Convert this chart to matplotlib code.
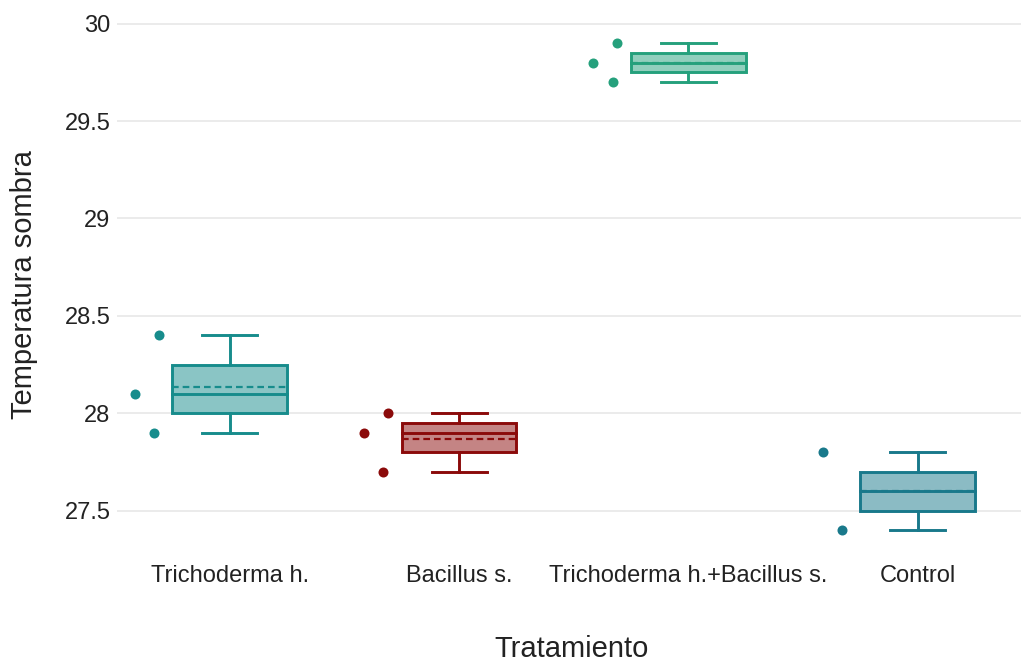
import numpy as np
import matplotlib.pyplot as plt

# temperature readings per treatment
categories = ["Trichoderma h.", "Bacillus s.", "Trichoderma h.+Bacillus s.", "Control"]
trichoderma = [28.4, 28.1, 27.9]
bacillus = [28.0, 27.9, 27.7]
combinado = [29.9, 29.8, 29.7]
control = [27.8, 27.4]
series = [trichoderma, bacillus, combinado, control]

colors = ["#178c8c", "#8b0a0a", "#25a07c", "#19798b"]
# horizontal jitter of the raw points (left of each box)
jitter = [[-0.31, -0.415, -0.33], [-0.31, -0.415, -0.33],
          [-0.31, -0.415, -0.33], [-0.415, -0.33]]

plt.rcParams['font.family'] = ['Liberation Sans', 'DejaVu Sans']

W, H = 1021, 664
fig = plt.figure(figsize=(W / 100, H / 100), dpi=100)
ax = fig.add_axes([0.115, 0.178, 0.885, 0.807])


def quartiles(v):
    # linear interpolation quartiles
    v = np.sort(np.asarray(v, float))
    return np.percentile(v, 25), np.median(v), np.percentile(v, 75)


box_w = 0.5
cap_w = 0.24
for i, (vals, col) in enumerate(zip(series, colors)):
    q1, med, q3 = quartiles(vals)
    lo, hi = min(vals), max(vals)
    mean = np.mean(vals)
    left, right = i - box_w / 2, i + box_w / 2
    ax.add_patch(plt.Rectangle((left, q1), box_w, q3 - q1, facecolor=col,
                               alpha=0.5, edgecolor='none', zorder=2))
    ax.add_patch(plt.Rectangle((left, q1), box_w, q3 - q1, facecolor='none',
                               edgecolor=col, lw=2.1, zorder=3))
    ax.plot([left, right], [med, med], color=col, lw=2.1, zorder=3)
    ax.plot([left, right], [mean, mean], color=col, lw=1.6, ls=(0, (3, 1.8)), zorder=3)
    ax.plot([i, i], [q3, hi], color=col, lw=2.1, zorder=3)
    ax.plot([i, i], [lo, q1], color=col, lw=2.1, zorder=3)
    ax.plot([i - cap_w / 2, i + cap_w / 2], [hi, hi], color=col, lw=2.1, zorder=3)
    ax.plot([i - cap_w / 2, i + cap_w / 2], [lo, lo], color=col, lw=2.1, zorder=3)
    ax.scatter(np.array(jitter[i]) + i, vals, s=52, color=col, zorder=4, lw=0)

ax.set_xlim(-0.49, 3.45)
ax.set_ylim(27.32, 30.07)
ax.set_yticks([27.5, 28, 28.5, 29, 29.5, 30])
ax.set_yticklabels(["27.5", "28", "28.5", "29", "29.5", "30"])
ax.set_xticks(range(len(categories)))
ax.set_xticklabels(categories)
ax.grid(axis='y', color='#e8e8e8', lw=1.2, zorder=0)
ax.set_axisbelow(True)
for s in ax.spines.values():
    s.set_visible(False)
ax.tick_params(length=0, labelsize=17, labelcolor='#222222')
ax.tick_params(axis='y', pad=5)
ax.tick_params(axis='x', pad=14)

# axis titles placed in pixel terms
fig.text(572 / W, 1 - 657 / H, "Tratamiento", fontsize=21, color='#222222',
         ha='center', va='baseline')
fig.text(24 / W, 1 - 285 / H, "Temperatura sombra", fontsize=21, color='#222222',
         ha='center', va='center', rotation=90)

fig.savefig("out.png", dpi=100, facecolor='white')
